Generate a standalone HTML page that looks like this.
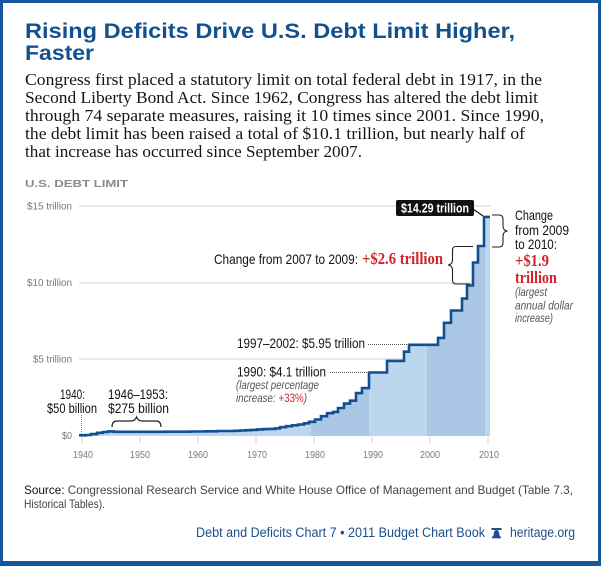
<!DOCTYPE html>
<html><head><meta charset="utf-8"><style>
html,body{margin:0;padding:0;background:#fff;}
svg{display:block;}
.s{font-family:"Liberation Sans",sans-serif;}
.r{font-family:"Liberation Serif",serif;}
</style></head><body>
<svg width="601" height="566" viewBox="0 0 601 566" xmlns="http://www.w3.org/2000/svg">
<defs>
<clipPath id="area"><path d="M79,435.3 H86 V435 H91 V434.1 H97 V432.8 H103 V432 H108 V431.4 H114 V431.8 H165 V431.7 H190 V431.5 H205 V431.3 H217 V431 H234 V430.8 H240 V430.5 H246 V430.2 H251 V429.9 H257 V429.4 H263 V429.1 H269 V428.9 H275 V428.4 H280 V427.2 H286 V426.2 H292 V425.3 H298 V424.5 H304 V423.3 H309 V421.8 H315 V419.5 H321 V416.2 H327 V413.2 H333 V411.9 H338 V408 H344 V403.6 H350 V400.7 H356 V393.1 H362 V388.1 H369 V372.5 H387 V360.9 H404 V351.7 H409 V344.8 H438 V337.9 H444 V322.8 H451 V310.5 H462 V298.6 H467 V285.5 H473 V262.5 H478 V246 H484 V216.9 H490 V436 H79 Z"/></clipPath>
</defs>
<rect width="601" height="566" fill="#17569b"/>
<rect x="3" y="3" width="595" height="558" fill="#ffffff"/>

<!-- Title -->
<text class="s" x="25" y="38" font-size="21" font-weight="bold" fill="#12508e" textLength="490" lengthAdjust="spacingAndGlyphs">Rising Deficits Drive U.S. Debt Limit Higher,</text>
<text class="s" x="25" y="60" font-size="21" font-weight="bold" fill="#12508e" textLength="69" lengthAdjust="spacingAndGlyphs">Faster</text>

<!-- Paragraph -->
<g class="r" font-size="17" fill="#151515">
<text x="25" y="85" textLength="517" lengthAdjust="spacingAndGlyphs">Congress first placed a statutory limit on total federal debt in 1917, in the</text>
<text x="25" y="103" textLength="513" lengthAdjust="spacingAndGlyphs">Second Liberty Bond Act. Since 1962, Congress has altered the debt limit</text>
<text x="25" y="121" textLength="519" lengthAdjust="spacingAndGlyphs">through 74 separate measures, raising it 10 times since 2001. Since 1990,</text>
<text x="25" y="139" textLength="500" lengthAdjust="spacingAndGlyphs">the debt limit has been raised a total of $10.1 trillion, but nearly half of</text>
<text x="25" y="157" textLength="337" lengthAdjust="spacingAndGlyphs">that increase has occurred since September 2007.</text>
</g>

<text class="s" x="25" y="187" font-size="10.5" font-weight="bold" fill="#8a8a8a" textLength="103" lengthAdjust="spacingAndGlyphs">U.S. DEBT LIMIT</text>

<!-- Gridlines -->
<g stroke="#dcdcdc" stroke-width="1.2">
<line x1="79" y1="206" x2="491" y2="206"/>
<line x1="79" y1="283" x2="491" y2="283"/>
<line x1="79" y1="359" x2="491" y2="359"/>
</g>

<!-- Y labels -->
<g class="s" font-size="10.5" fill="#777" text-anchor="end">
<text x="72" y="209.5" textLength="45" lengthAdjust="spacingAndGlyphs">$15 trillion</text>
<text x="72" y="286" textLength="45" lengthAdjust="spacingAndGlyphs">$10 trillion</text>
<text x="72" y="362.5" textLength="39" lengthAdjust="spacingAndGlyphs">$5 trillion</text>
<text x="72" y="439" textLength="10" lengthAdjust="spacingAndGlyphs">$0</text>
</g>

<!-- Area fill -->
<g clip-path="url(#area)">
<rect x="78" y="200" width="233" height="240" fill="#bcd6ee"/>
<rect x="311" y="200" width="58" height="240" fill="#aac8e6"/>
<rect x="369" y="200" width="58" height="240" fill="#bcd6ee"/>
<rect x="427" y="200" width="58" height="240" fill="#aac8e6"/>
<rect x="485" y="200" width="6" height="240" fill="#bcd6ee"/>
</g>

<!-- Ticks -->
<g stroke="#cfcfcf" stroke-width="1">
<line x1="82" y1="437" x2="82" y2="443"/>
<line x1="140" y1="437" x2="140" y2="443"/>
<line x1="198" y1="437" x2="198" y2="443"/>
<line x1="256" y1="437" x2="256" y2="443"/>
<line x1="314" y1="437" x2="314" y2="443"/>
<line x1="372" y1="437" x2="372" y2="443"/>
<line x1="430" y1="437" x2="430" y2="443"/>
<line x1="488" y1="437" x2="488" y2="443"/>
</g>

<!-- Step line -->
<path d="M79,435.3 H86 V435 H91 V434.1 H97 V432.8 H103 V432 H108 V431.4 H114 V431.8 H165 V431.7 H190 V431.5 H205 V431.3 H217 V431 H234 V430.8 H240 V430.5 H246 V430.2 H251 V429.9 H257 V429.4 H263 V429.1 H269 V428.9 H275 V428.4 H280 V427.2 H286 V426.2 H292 V425.3 H298 V424.5 H304 V423.3 H309 V421.8 H315 V419.5 H321 V416.2 H327 V413.2 H333 V411.9 H338 V408 H344 V403.6 H350 V400.7 H356 V393.1 H362 V388.1 H369 V372.5 H387 V360.9 H404 V351.7 H409 V344.8 H438 V337.9 H444 V322.8 H451 V310.5 H462 V298.6 H467 V285.5 H473 V262.5 H478 V246 H484 V216.9 H490" fill="none" stroke="#114f91" stroke-width="2.6" stroke-linejoin="miter"/>

<!-- X labels -->
<g class="s" font-size="10.5" fill="#7a7a7a" text-anchor="middle">
<text x="83" y="458" textLength="20" lengthAdjust="spacingAndGlyphs">1940</text>
<text x="140" y="458" textLength="20" lengthAdjust="spacingAndGlyphs">1950</text>
<text x="198" y="458" textLength="20" lengthAdjust="spacingAndGlyphs">1960</text>
<text x="257" y="458" textLength="20" lengthAdjust="spacingAndGlyphs">1970</text>
<text x="315" y="458" textLength="20" lengthAdjust="spacingAndGlyphs">1980</text>
<text x="373" y="458" textLength="20" lengthAdjust="spacingAndGlyphs">1990</text>
<text x="430" y="458" textLength="20" lengthAdjust="spacingAndGlyphs">2000</text>
<text x="489" y="458" textLength="20" lengthAdjust="spacingAndGlyphs">2010</text>
</g>

<!-- 1940 annotation -->
<g class="s" font-size="13.5" fill="#111">
<text x="60" y="399" textLength="25" lengthAdjust="spacingAndGlyphs">1940:</text>
<text x="47" y="413" textLength="50" lengthAdjust="spacingAndGlyphs">$50 billion</text>
<text x="108" y="399" textLength="60" lengthAdjust="spacingAndGlyphs">1946–1953:</text>
<text x="108" y="413" textLength="61" lengthAdjust="spacingAndGlyphs">$275 billion</text>
</g>
<line x1="81.5" y1="415" x2="81.5" y2="434" stroke="#888" stroke-width="1" stroke-dasharray="1,1"/>
<path d="M112,427 Q112,421 117,421 L131,421 Q135,421 136.5,417 Q138,421 142,421 L156,421 Q161,421 161,427" fill="none" stroke="#222" stroke-width="1.2"/>

<!-- 1990 / 1997 annotations -->
<g class="s" font-size="13.5" fill="#111">
<text x="237" y="348" textLength="128" lengthAdjust="spacingAndGlyphs">1997–2002: $5.95 trillion</text>
<text x="237" y="376.5" textLength="89" lengthAdjust="spacingAndGlyphs">1990: $4.1 trillion</text>
</g>
<line x1="368" y1="344.5" x2="409" y2="344.5" stroke="#555" stroke-width="1" stroke-dasharray="1,1"/>
<line x1="330" y1="372.5" x2="369" y2="372.5" stroke="#555" stroke-width="1" stroke-dasharray="1,1"/>
<g class="s" font-size="12" font-style="italic" fill="#555">
<text x="236" y="389" textLength="83" lengthAdjust="spacingAndGlyphs">(largest percentage</text>
<text x="236" y="402" textLength="71" lengthAdjust="spacingAndGlyphs">increase: <tspan fill="#d3222a" font-style="normal">+33%</tspan>)</text>
</g>

<!-- 2007-2009 annotation -->
<text class="s" x="214" y="264" font-size="14" fill="#111" textLength="144" lengthAdjust="spacingAndGlyphs">Change from 2007 to 2009:</text>
<text class="r" x="362" y="264" font-size="17" font-weight="bold" fill="#d3222a" textLength="81" lengthAdjust="spacingAndGlyphs">+$2.6 trillion</text>
<path d="M473,246.5 H456 Q452.5,246.5 452.5,250 V260 Q452.5,264.5 448,265 Q452.5,265.5 452.5,270 V280 Q452.5,284 456,284 H470" fill="none" stroke="#222" stroke-width="1.1"/>

<!-- 2009-2010 annotation -->
<path d="M492,215 H499 Q503,215 503,219 V226 Q503,230.5 507.5,231 Q503,231.5 503,236 V243 Q503,247 499,247 H492" fill="none" stroke="#222" stroke-width="1.1"/>
<g class="s" font-size="14" fill="#111">
<text x="515" y="220" textLength="38" lengthAdjust="spacingAndGlyphs">Change</text>
<text x="515" y="235" textLength="54" lengthAdjust="spacingAndGlyphs">from 2009</text>
<text x="515" y="249" textLength="42" lengthAdjust="spacingAndGlyphs">to 2010:</text>
</g>
<g class="r" font-size="17" font-weight="bold" fill="#d3222a">
<text x="515" y="266" textLength="34" lengthAdjust="spacingAndGlyphs">+$1.9</text>
<text x="515" y="283" textLength="42" lengthAdjust="spacingAndGlyphs">trillion</text>
</g>
<g class="s" font-size="12" font-style="italic" fill="#555">
<text x="515" y="296" textLength="32" lengthAdjust="spacingAndGlyphs">(largest</text>
<text x="515" y="309.5" textLength="58" lengthAdjust="spacingAndGlyphs">annual dollar</text>
<text x="515" y="322" textLength="38" lengthAdjust="spacingAndGlyphs">increase)</text>
</g>

<!-- 14.29 label -->
<rect x="396" y="200" width="78" height="16" rx="2" fill="#111"/>
<text class="s" x="401" y="212.5" font-size="12.5" font-weight="bold" fill="#fff" textLength="68" lengthAdjust="spacingAndGlyphs">$14.29 trillion</text>
<line x1="473" y1="209" x2="483" y2="216" stroke="#111" stroke-width="1.1"/>

<!-- Source -->
<text class="s" x="24" y="494" font-size="12" fill="#444" textLength="549" lengthAdjust="spacingAndGlyphs"><tspan fill="#111">Source:</tspan> Congressional Research Service and White House Office of Management and Budget (Table 7.3,</text>
<text class="s" x="24" y="508" font-size="12" fill="#444" textLength="81" lengthAdjust="spacingAndGlyphs">Historical Tables).</text>

<!-- Footer -->
<text class="s" x="196" y="537" font-size="13.5" fill="#1c4f8c" textLength="289" lengthAdjust="spacingAndGlyphs">Debt and Deficits Chart 7 • 2011 Budget Chart Book</text>
<g fill="#1c4f8c">
<rect x="491.5" y="528" width="10" height="2"/>
<path d="M493,537.5 L494,532.5 Q494.5,530 496.5,530 Q498.5,530 499,532.5 L500,537.5 Z"/>
<rect x="492" y="536.5" width="9" height="1.8"/>
</g>
<text class="s" x="510" y="537" font-size="13.5" fill="#1c4f8c" textLength="65" lengthAdjust="spacingAndGlyphs">heritage.org</text>
</svg>
</body></html>
